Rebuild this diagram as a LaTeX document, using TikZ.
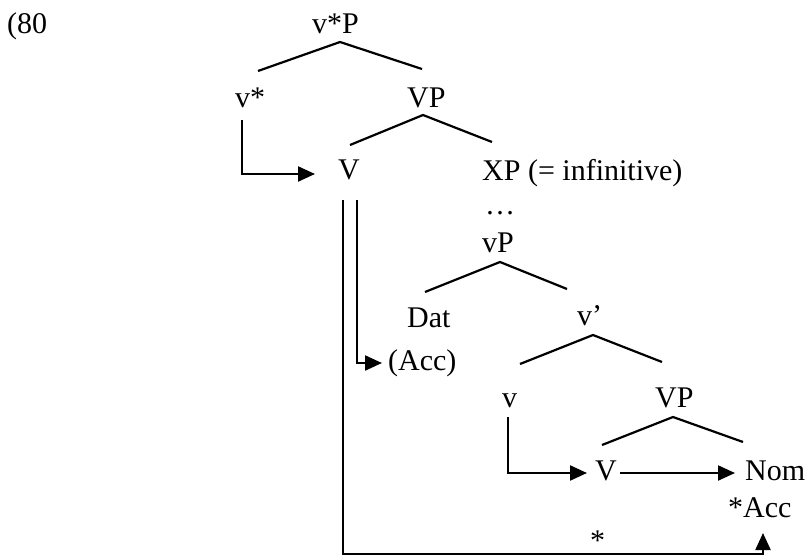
\documentclass[tikz,border=0pt]{standalone}
\usepackage{fontspec}
\setmainfont{Liberation Serif}
\usetikzlibrary{arrows.meta}
\begin{document}
\begin{tikzpicture}[x=1pt,y=-1pt,
  lbl/.style={anchor=base west,inner sep=0pt,font=\fontsize{30}{36}\selectfont},
  br/.style={line width=2.2pt},
  mv/.style={line width=2.2pt,-{Triangle[length=17pt,width=15pt]}}]
\useasboundingbox (0,0) rectangle (812,557);
% labels
\node[lbl] (ex) at (7,33) {(80};
\node[lbl] (vsP) at (312,33) {v*P};
\node[lbl] (vs) at (235,107) {v*};
\node[lbl] (VP1) at (407,107) {VP};
\node[lbl] (V1) at (338,179) {V};
\node[lbl] (XP) at (482,180) {XP (= infinitive)};
\node[lbl] (dots) at (485,214) {…};
\node[lbl] (vP) at (482,252) {vP};
\node[lbl] (Dat) at (407,327) {Dat};
\node[lbl] (Acc) at (388,370) {(Acc)};
\node[lbl] (vbar) at (577,325) {v’};
\node[lbl] (v) at (502,407) {v};
\node[lbl] (VP2) at (655,407) {VP};
\node[lbl] (V2) at (595,480) {V};
\node[lbl] (Nom) at (745,480) {Nom};
\node[lbl] (sAcc) at (728,517) {*Acc};
\node[lbl] (star) at (590,550) {*};
% branch points
\coordinate (a1) at (340,42); \coordinate (a1l) at (258,71); \coordinate (a1r) at (422,69);
\coordinate (a2) at (423,115); \coordinate (a2l) at (350,145); \coordinate (a2r) at (492,142);
\coordinate (a3) at (500,262); \coordinate (a3l) at (425,292); \coordinate (a3r) at (567,289);
\coordinate (a4) at (593,335); \coordinate (a4l) at (520,364); \coordinate (a4r) at (662,362);
\coordinate (a5) at (673,417); \coordinate (a5l) at (602,445); \coordinate (a5r) at (743,442);
\draw[br] (a1l) -- (a1) -- (a1r);
\draw[br] (a2l) -- (a2) -- (a2r);
\draw[br] (a3l) -- (a3) -- (a3r);
\draw[br] (a4l) -- (a4) -- (a4r);
\draw[br] (a5l) -- (a5) -- (a5r);
% movement arrows
\coordinate (m1s) at (242,120); \coordinate (m1e) at (315,174);
\draw[mv] (m1s) |- (m1e);
\coordinate (m2s) at (357,200); \coordinate (m2e) at (382,363);
\draw[mv] (m2s) |- (m2e);
\coordinate (m3s) at (343,200); \coordinate (m3c) at (763,554); \coordinate (m3e) at (763,533);
\draw[mv] (m3s) |- (m3c) -- (m3e);
\coordinate (m4s) at (508,417); \coordinate (m4e) at (587,473);
\draw[mv] (m4s) |- (m4e);
\coordinate (m5s) at (620,473); \coordinate (m5e) at (735,473);
\draw[mv] (m5s) -- (m5e);
\end{tikzpicture}
\end{document}
